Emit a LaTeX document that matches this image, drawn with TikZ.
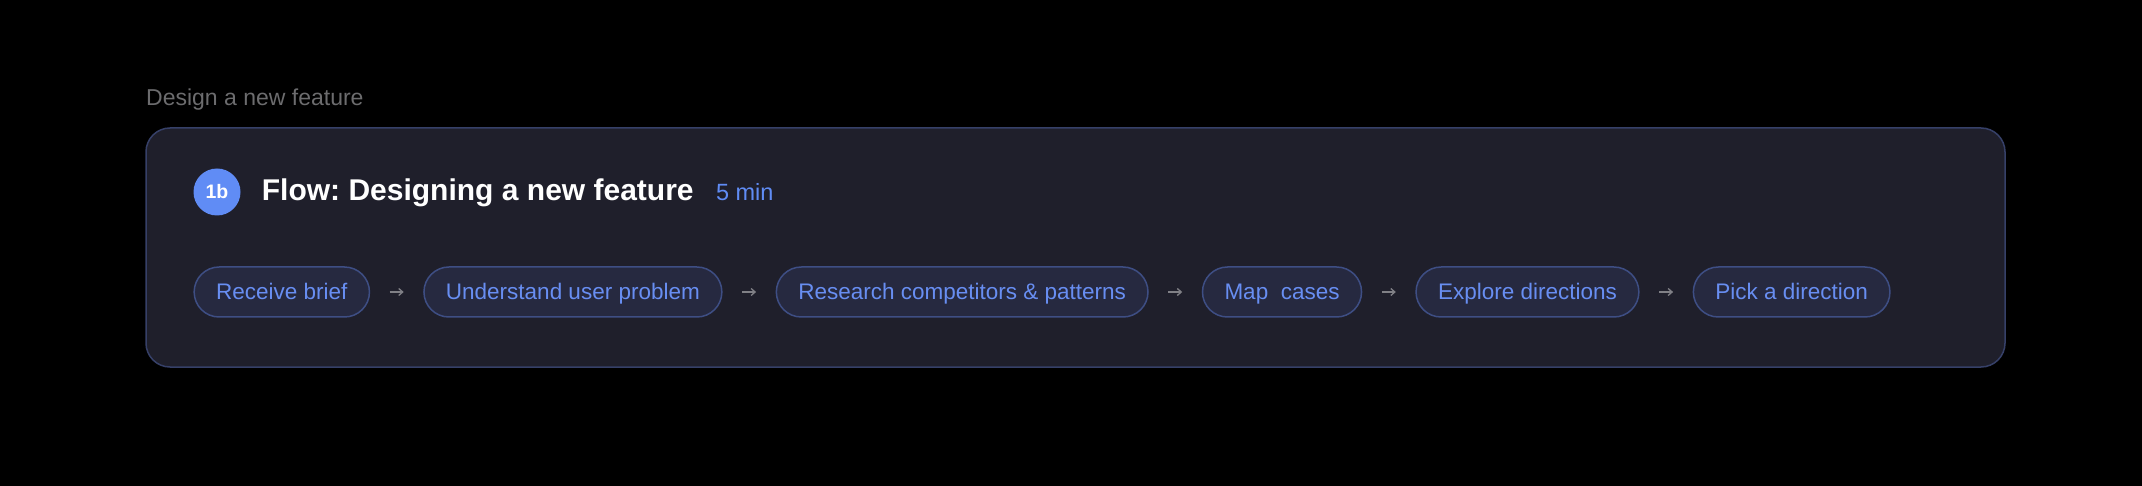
\documentclass[tikz,border=0pt]{standalone}
\usepackage{fontspec}
\setmainfont{Liberation Sans}
\usepackage{tikz}
\usetikzlibrary{arrows.meta}
\definecolor{cardfill}{RGB}{31,31,43}
\definecolor{cardline}{RGB}{54,64,104}
\definecolor{pillfill}{RGB}{38,41,64}
\definecolor{pillline}{RGB}{62,78,132}
\definecolor{pilltext}{RGB}{104,142,242}
\definecolor{badgeblue}{RGB}{96,140,245}
\definecolor{headgray}{RGB}{108,108,110}
\definecolor{arrowgray}{RGB}{128,128,134}
\frenchspacing
\begin{document}
\begin{tikzpicture}[x=1pt,y=-1pt,
    pill/.style={draw=pillline,fill=pillfill,line width=1.5pt,rounded corners=25pt,
      minimum height=50pt,inner xsep=22pt,inner ysep=0pt,text height=20pt,text depth=4pt,
      text=pilltext,font=\fontsize{22.5}{26}\selectfont},
    flowarrow/.style={draw=arrowgray,line width=1.3pt,shorten <=19.5pt,shorten >=19.5pt,
      -{Straight Barb[length=4pt,width=7pt]}}]
    \fill[black] (0,0) rectangle (2142,486);
    \useasboundingbox (0,0) rectangle (2142,486);
    \draw[draw=cardline,fill=cardfill,line width=1.5pt,rounded corners=24pt] (146,128) rectangle (2005,367);
    \node[anchor=base west,inner sep=0pt,text=headgray,font=\fontsize{23}{27}\selectfont] (ha) at (146,105.7) {Design a new feature};
    \node[circle,fill=badgeblue,minimum size=47pt,inner sep=0pt,text=white,font=\fontsize{19.5}{22}\selectfont\bfseries] (ta) at (217,192) {1b};
    \node[anchor=base west,inner sep=0pt,text=white,font=\fontsize{30}{34}\selectfont\bfseries] (tb) at (261.7,201) {Flow: Designing a new feature};
    \node[anchor=base west,inner sep=0pt,text=badgeblue,font=\fontsize{23.5}{27}\selectfont] (tc) at ([xshift=22pt]tb.base east) {5 min};
    \node[pill,anchor=west] (pa) at (193.4,292) {Receive brief};
    \node[pill,anchor=west] (pb) at ([xshift=53pt]pa.east) {Understand user problem};
    \node[pill,anchor=west] (pc) at ([xshift=53pt]pb.east) {Research competitors \& patterns};
    \node[pill,anchor=west] (pd) at ([xshift=53pt]pc.east) {Map~~cases};
    \node[pill,anchor=west] (pe) at ([xshift=53pt]pd.east) {Explore directions};
    \node[pill,anchor=west] (pf) at ([xshift=53pt]pe.east) {Pick a direction};
    \draw[flowarrow] (pa.east) -- (pb.west);
    \draw[flowarrow] (pb.east) -- (pc.west);
    \draw[flowarrow] (pc.east) -- (pd.west);
    \draw[flowarrow] (pd.east) -- (pe.west);
    \draw[flowarrow] (pe.east) -- (pf.west);
  \end{tikzpicture}
\end{document}
